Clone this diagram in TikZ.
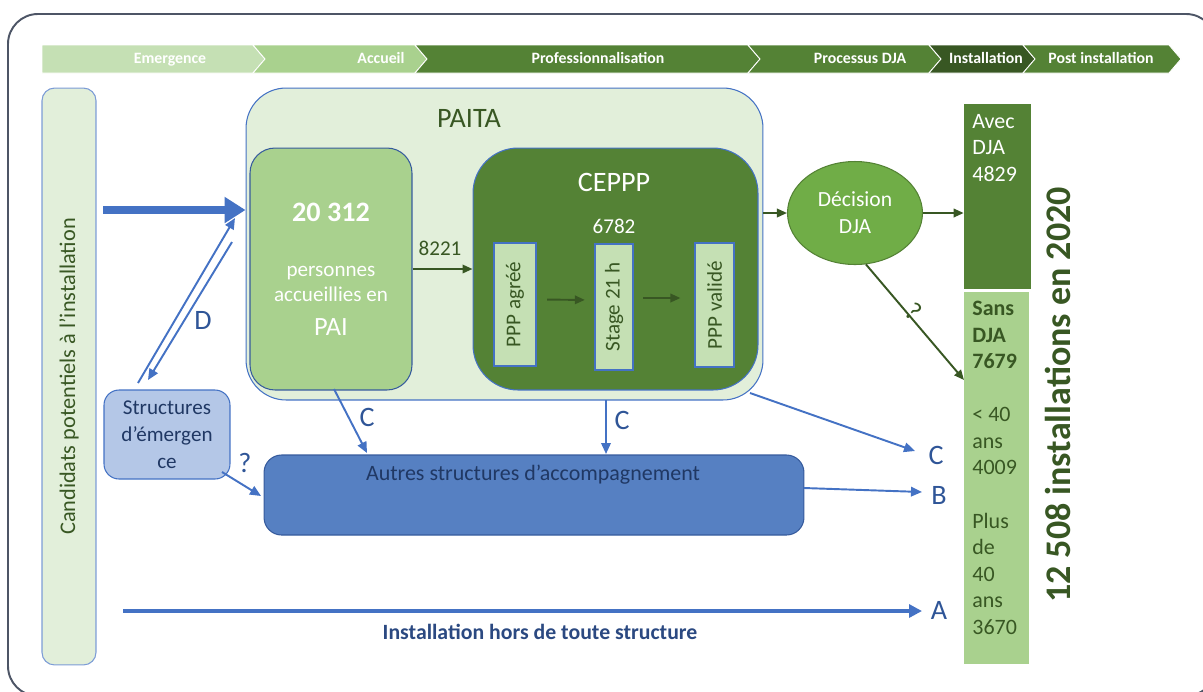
\documentclass[tikz,border=0pt]{standalone}
\usepackage{fontspec}
\usepackage{graphicx}
\setmainfont{Carlito}
\usetikzlibrary{positioning,calc,arrows.meta,shapes.geometric}

\definecolor{paleGreen}{HTML}{E2EFDA}
\definecolor{chevLight}{HTML}{C5E0B4}
\definecolor{midGreen}{HTML}{A9D18E}
\definecolor{darkGreen}{HTML}{548235}
\definecolor{deepGreen}{HTML}{385723}
\definecolor{ovalGreen}{HTML}{70AD47}
\definecolor{lineBlue}{HTML}{4472C4}
\definecolor{boxBlue}{HTML}{5680C2}
\definecolor{paleBlue}{HTML}{B4C7E7}
\definecolor{navyText}{HTML}{203864}
\definecolor{labelBlue}{HTML}{2F5597}
\definecolor{frameGray}{HTML}{4D5566}

\newcommand{\fsz}[2]{\fontsize{#1}{#2}\selectfont}

\begin{document}
\begin{tikzpicture}[x=0.02cm,y=-0.02cm,
    phase/.style={text=white,font=\fsz{9}{11}\bfseries,inner sep=0pt,text height=1.4ex,text depth=0.4ex},
    blueArrow/.style={lineBlue,line width=1.1pt,-{Triangle[length=2.2mm,width=1.9mm]}},
    greenArrow/.style={deepGreen,line width=1.1pt,-{Triangle[length=2mm,width=1.7mm]}},
    lbl/.style={text=labelBlue,font=\fsz{16}{19},inner sep=0pt},
    pppbox/.style={draw=lineBlue,line width=0.6pt,fill=chevLight,inner sep=0pt,text=deepGreen,font=\fsz{12}{14}}]
      \useasboundingbox (0,0) rectangle (1203,691);
      \begin{scope}
            \clip (0,0) rectangle (1203,691); % frame runs off the page
            \draw [frameGray, line width=1.1pt, rounded corners=0.6cm] (8,14) rectangle (1216,696);
      \end{scope}

      % phase banner
      \foreach \xa/\xb/\dn/\col/\name/\xt [count=\i] in
          {42/253/0/chevLight/Emergence/170, 253/415/12/midGreen/Accueil/381,
           415/748/12/darkGreen/Professionnalisation/598, 748/929/12/darkGreen/Processus DJA/860,
           929/1023/12/deepGreen/Installation/986, 1023/1169/12/darkGreen/Post installation/1101}
      {
        \filldraw [fill=\col, draw=white, line width=0.5pt]
            (\xa,45) -- (\xb,45) -- (\xb+12,59) -- (\xb,73) -- (\xa,73) -- (\xa+\dn,59) -- cycle;
        \node[phase] (phase\i) at (\xt,59) {\name};
      }

      % boxes
      \node[draw=lineBlue!70,line width=0.6pt,fill=paleGreen,rounded corners=0.25cm,
            minimum width=1.08cm,minimum height=11.54cm,inner sep=0pt,text=deepGreen,font=\fsz{12.7}{15}]
            (cand) at (69,376.5) {\rotatebox{90}{Candidats potentiels à l’installation}};
      \node[draw=lineBlue,line width=0.6pt,fill=paleGreen,rounded corners=0.8cm,
            minimum width=10.34cm,minimum height=6.24cm] (paita) at (504.5,244) {};
      \node[text=deepGreen,font=\fsz{16}{19}] (paitatxt) at (469,118) {PAITA};
      \node[draw=lineBlue!80!black,line width=0.6pt,fill=midGreen,rounded corners=0.5cm,
            minimum width=3.24cm,minimum height=4.84cm] (pai) at (331,269) {};
      \node[text=white,font=\fsz{16}{19}\bfseries] (paiNum) at (331,212) {20 312};
      \node[text=white,font=\fsz{12}{14.2},align=center] (paiTxt) at (331,284) {personnes\\accueillies en};
      \node[text=white,font=\fsz{15}{18}] (paiName) at (331,327) {PAI};
      \node[draw=lineBlue,line width=0.6pt,fill=darkGreen,rounded corners=0.9cm,
            minimum width=5.7cm,minimum height=4.84cm] (ceppp) at (615.5,269) {};
      \node[text=white,font=\fsz{16}{19}] (cepppTxt) at (614,182) {CEPPP};
      \node[text=white,font=\fsz{12}{14}] (cepppNum) at (614,226) {6782};
      \node[pppbox,minimum width=0.84cm,minimum height=2.46cm] (agree) at (515,304.5) {\rotatebox{90}{PPP agréé}};
      \node[pppbox,minimum width=0.76cm,minimum height=2.52cm] (stage) at (614,307) {\rotatebox{90}{Stage 21 h}};
      \node[pppbox,minimum width=0.78cm,minimum height=2.48cm] (valide) at (714.5,305) {\rotatebox{90}{PPP validé}};
      \node[ellipse,draw=darkGreen,line width=0.6pt,fill=ovalGreen,minimum width=2.7cm,minimum height=2.06cm,
            inner sep=0pt,text=white,font=\fsz{12.3}{15.5},align=center] (dja) at (855,213) {Décision\\DJA};
      \node[fill=darkGreen,minimum width=1.34cm,minimum height=3.7cm,inner sep=0pt] (avec) at (997.5,196.5) {};
      \node[fill=midGreen,minimum width=1.3cm,minimum height=7.44cm,inner sep=0pt] (sans) at (996.5,478) {};
      \node[anchor=north west,inner sep=0pt,text=white,font=\fsz{12.5}{15.1},align=left]
            (avecTxt) at (972,114) {Avec\\DJA\\4829};
      \node[anchor=north west,inner sep=0pt,text=deepGreen,font=\fsz{12.5}{15.1},align=left]
            (sansTxt) at (972,301) {\textbf{Sans}\\\textbf{DJA}\\\textbf{7679}\\\mbox{}\\< 40\\ans\\4009\\\mbox{}\\Plus\\de\\40\\ans\\3670};
      \node[rotate=90,text=deepGreen,font=\fsz{20.5}{24}\bfseries] (total) at (1058,395) {12 508 installations en 2020};
      \node[draw=lineBlue,line width=0.6pt,fill=paleBlue,rounded corners=0.3cm,minimum width=2.52cm,
            minimum height=1.78cm,inner sep=0pt,text=navyText,font=\fsz{12}{15.3},align=center]
            (emerg) at (167,434.5) {Structures\\d’émergen\\ce};
      \node[draw=lineBlue!80!black,line width=0.6pt,fill=boxBlue,rounded corners=0.35cm,
            minimum width=10.8cm,minimum height=1.6cm] (autres) at (534,495) {};
      \node[text=navyText,font=\fsz{12.5}{15}] (autresTxt) at (533,475) {Autres structures d’accompagnement};
      \node[text=navyText!70!lineBlue,font=\fsz{12.4}{15}\bfseries] (horsTxt) at (540,632) {Installation hors de toute structure};

      % free ends
      \coordinate (bigStart) at (103,210);
      \coordinate (dUpS) at (138,383);
      \coordinate (dUpE) at (235,218);
      \coordinate (dDnS) at (232,242);
      \coordinate (dDnE) at (148,380);
      \coordinate (cOneS) at (334,389);
      \coordinate (cOneE) at (367,453);
      \coordinate (cTwoS) at (606,400);
      \coordinate (cTwoE) at (606,454);
      \coordinate (cThrS) at (750,393);
      \coordinate (cThrE) at (915,451);
      \coordinate (bStart) at (804,488);
      \coordinate (bEnd) at (922,492);
      \coordinate (aStart) at (123,611);
      \coordinate (aEnd) at (922,611);
      \coordinate (qS) at (222,472);
      \coordinate (qE) at (261,496);
      \coordinate (sansIn) at (964,380);

      % connectors
      \draw [lineBlue, line width=4pt, -{Triangle[length=4.2mm,width=5mm]}] (bigStart) -- (paita.west |- bigStart);
      \draw [blueArrow] (dUpS) -- (dUpE);
      \draw [blueArrow] (dDnS) -- (dDnE);
      \draw [blueArrow] (cOneS) -- (cOneE);
      \draw [blueArrow] (cTwoS) -- (cTwoE);
      \draw [blueArrow] (cThrS) -- (cThrE);
      \draw [blueArrow] (bStart) -- (bEnd);
      \draw [lineBlue, line width=1.8pt, -{Triangle[length=2.6mm,width=2.6mm]}] (aStart) -- (aEnd);
      \draw [blueArrow] (qS) -- (qE);
      \draw [greenArrow] (pai.east) -- (ceppp.west);
      \draw [greenArrow, shorten <=6pt, shorten >=5.5pt] ($(agree.east)+(0,-5)$) -- ($(stage.west)+(0,-7)$);
      \draw [greenArrow, shorten <=5.5pt, shorten >=8pt] ($(stage.east)+(0,-9)$) -- ($(valide.west)+(0,-7)$);
      \draw [greenArrow] (paita.east |- dja.west) -- (dja.west);
      \draw [greenArrow] (dja.east) -- (avec.west |- dja.east);
      \draw [greenArrow] (dja.-78) -- (sansIn);

      % labels
      \node[lbl] (lblD) at (203,320) {D};
      \node[lbl] (lblC1) at (367,417) {C};
      \node[lbl] (lblC2) at (622,420) {C};
      \node[lbl] (lblC3) at (936,455) {C};
      \node[lbl] (lblB) at (939,495) {B};
      \node[lbl] (lblA) at (939,610) {A};
      \node[lbl] (lblQ) at (245,463) {?};
      \node[text=deepGreen,font=\fsz{15}{17},rotate=-40,inner sep=0pt] (lblQ2) at (914,312) {?};
      \node[text=deepGreen,font=\fsz{12}{14}] (lbl8221) at (440,248) {8221};
\end{tikzpicture}
\end{document}
